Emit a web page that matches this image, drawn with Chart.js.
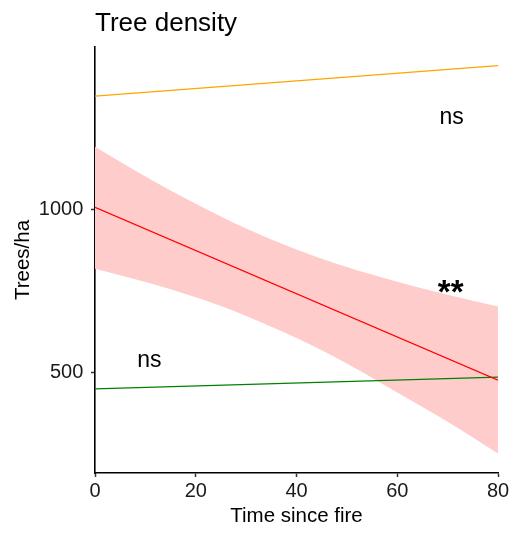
<!DOCTYPE html>
<html>
<head>
<meta charset="utf-8">
<script src="https://cdn.jsdelivr.net/npm/chart.js@4/dist/chart.umd.min.js"></script>
<style>
  html, body { margin: 0; padding: 0; background: #fff; }
  #contenedor { width: 518px; height: 539px; }
</style>
</head>
<body>
<div id="contenedor"><canvas id="grafico" width="518" height="539"></canvas></div>
<script>
// Datos
const tiempoLinea = [0, 80];
const lineaNaranja = [1349, 1443];
const lineaRoja = [1008, 478];
const lineaVerde = [451, 487];

// Banda de confianza (roja)
const tiempoBanda = [0, 10, 20, 30, 40, 50, 60, 70, 80];
const bandaSup = [1194, 1103, 1019, 943, 879, 825, 780, 740, 704];
const bandaInf = [820, 779, 732, 675, 607, 529, 440, 350, 253];

// Ticks
const ticksX = [0, 20, 40, 60, 80];
const ticksY = [500, 1000];

// Anotaciones
const etiquetas = ['ns', '**', 'ns'];
const etiquetasX = [70.8, 70.6, 10.8];
const etiquetasY = [1265, 714, 518];

function puntos(xs, ys) {
    return xs.map((x, i) => ({ x: x, y: ys[i] }));
}

Chart.defaults.font.family = "'Liberation Sans', Arial, sans-serif";
Chart.defaults.color = '#1a1a1a';

const pluginTextos = {
    id: 'textos',
    afterDatasetsDraw(chart) {
        const ctx = chart.ctx;
        const sx = chart.scales.x;
        const sy = chart.scales.y;
        ctx.save();
        ctx.fillStyle = '#000';
        ctx.textAlign = 'center';
        ctx.textBaseline = 'alphabetic';
        etiquetas.forEach((txt, i) => {
            ctx.font = txt === '**' ? "bold 33px 'Liberation Sans', Arial" : "23px 'Liberation Sans', Arial";
            ctx.fillText(txt, sx.getPixelForValue(etiquetasX[i]), sy.getPixelForValue(etiquetasY[i]));
        });
        // titulo
        ctx.textAlign = 'left';
        ctx.font = "26px 'Liberation Sans', Arial";
        ctx.fillText('Tree density', chart.chartArea.left, 31);
        ctx.restore();
    }
};

const ctx = document.getElementById('grafico').getContext('2d');
const miGrafico = new Chart(ctx, {
    type: 'scatter',
    data: {
        datasets: [
            {
                label: 'banda sup',
                data: puntos(tiempoBanda, bandaSup),
                showLine: true,
                borderWidth: 0,
                borderColor: 'rgba(0,0,0,0)',
                backgroundColor: '#FFCCCC',
                fill: '+1',
                pointRadius: 0,
                cubicInterpolationMode: 'monotone',
                order: 3
            },
            {
                label: 'banda inf',
                data: puntos(tiempoBanda, bandaInf),
                showLine: true,
                borderWidth: 0,
                borderColor: 'rgba(0,0,0,0)',
                fill: false,
                pointRadius: 0,
                cubicInterpolationMode: 'monotone',
                order: 3
            },
            {
                label: 'naranja',
                data: puntos(tiempoLinea, lineaNaranja),
                showLine: true,
                borderColor: '#FFA500',
                borderWidth: 1.2,
                pointRadius: 0,
                order: 1
            },
            {
                label: 'roja',
                data: puntos(tiempoLinea, lineaRoja),
                showLine: true,
                borderColor: '#FF0000',
                borderWidth: 1.2,
                pointRadius: 0,
                order: 1
            },
            {
                label: 'verde',
                data: puntos(tiempoLinea, lineaVerde),
                showLine: true,
                borderColor: '#008000',
                borderWidth: 1.2,
                pointRadius: 0,
                order: 1
            }
        ]
    },
    options: {
        responsive: false,
        animation: false,
        layout: { padding: { left: 0, right: 20, top: 47, bottom: 0 } },
        plugins: {
            legend: { display: false },
            tooltip: { enabled: false }
        },
        scales: {
            x: {
                type: 'linear',
                min: 0,
                max: 80,
                afterBuildTicks: (s) => { s.ticks = ticksX.map(v => ({ value: v })); },
                afterFit: (s) => { s.height = 66; },
                grid: { drawOnChartArea: false, drawTicks: true, tickLength: 4, tickColor: '#333', tickWidth: 1.5 },
                border: { display: true, color: '#000', width: 1.6 },
                ticks: { font: { size: 20 }, padding: 2.5, color: '#1a1a1a', callback: (v) => String(v) },
                title: { display: true, text: 'Time since fire', font: { size: 20.5 }, padding: { top: 0, bottom: 10 }, color: '#000' }
            },
            y: {
                type: 'linear',
                min: 193,
                max: 1500,
                afterBuildTicks: (s) => { s.ticks = ticksY.map(v => ({ value: v })); },
                afterFit: (s) => { s.width = 95; },
                grid: { drawOnChartArea: false, drawTicks: true, tickLength: 4, tickColor: '#333', tickWidth: 1.5 },
                border: { display: true, color: '#000', width: 1.6 },
                ticks: { font: { size: 20 }, padding: 7.7, color: '#1a1a1a', callback: (v) => String(v) },
                title: { display: true, text: 'Trees/ha', font: { size: 20.5 }, padding: { top: 10.7, bottom: 0 }, color: '#000' }
            }
        }
    },
    plugins: [pluginTextos]
});
</script>
</body>
</html>
